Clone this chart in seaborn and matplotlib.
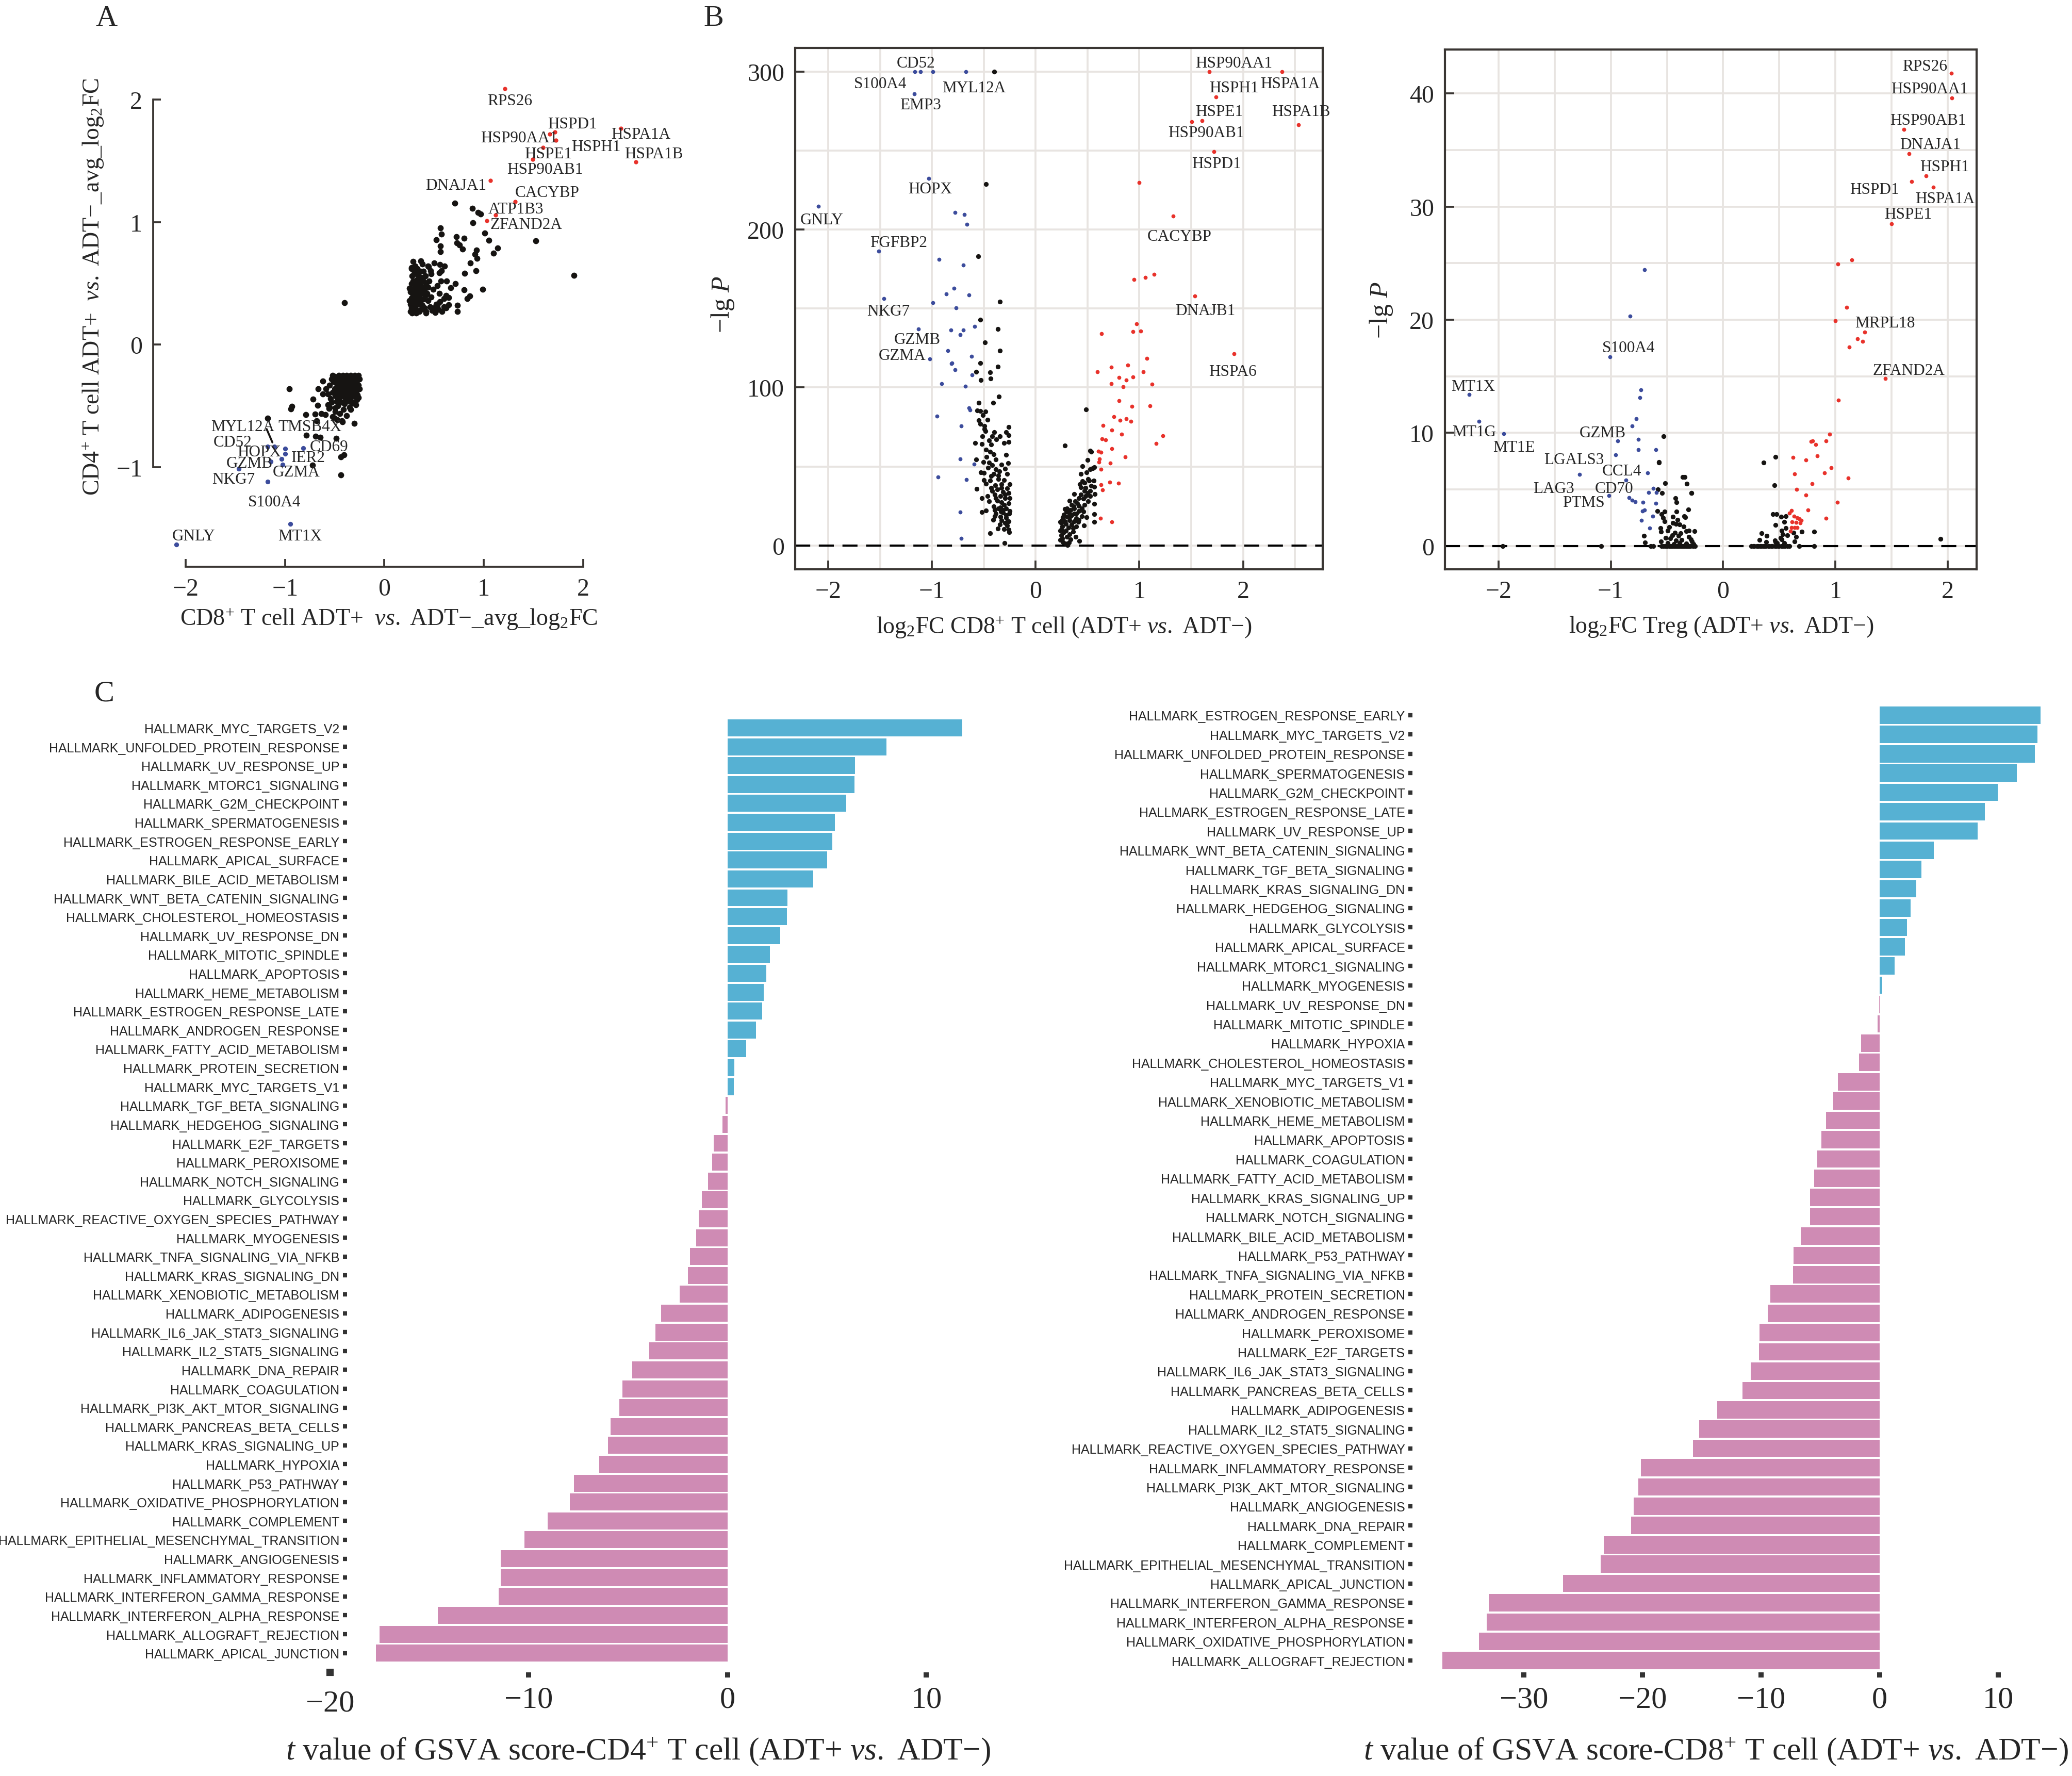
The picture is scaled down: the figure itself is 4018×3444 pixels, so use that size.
import numpy as np
import pandas as pd
import matplotlib
matplotlib.use('Agg')
import matplotlib.pyplot as plt
from matplotlib.ticker import MultipleLocator
import seaborn as sns

# ---------------- data: panel A (CD8 vs CD4 avg_log2FC) ----------------
a_black_x = [0.708, 0.883, 0.942, 0.968, 0.888, 1.009, 0.563, 0.571, 0.522, 0.722, 0.80, 0.727, 0.755, 0.786,
             0.563, 0.563, 1.05, 1.137, 1.095, 0.928, 0.91, 0.93, 0.862, 0.92, 0.809, 1.522, 1.906, 0.99, 0.804,
             0.857, 0.835, 0.732, 0.732, 0.618, 0.645, 0.597, 0.645, 0.711, 0.666, 0.625, 0.534, 0.513, 0.417,
             0.364, 0.502, 0.558, 0.605, 0.446, 0.465, 0.571, 0.55, 0.274, 0.306,
             0.26, 0.28, 0.30, 0.32, 0.27, 0.29, 0.31, 0.33, 0.35, 0.37, 0.26, 0.28, 0.30, 0.32, 0.34, 0.36, 0.38,
             0.40, 0.42, 0.27, 0.29, 0.31, 0.33, 0.35, 0.37, 0.39, 0.41, 0.26, 0.28, 0.30, 0.32, 0.34, 0.36, 0.38,
             0.40, 0.44, 0.46, 0.48, 0.27, 0.29, 0.31, 0.33, 0.35, 0.37, 0.39, 0.42, 0.44, 0.28, 0.30, 0.34, 0.36,
             0.27, 0.25, 0.25, 0.43, 0.45, 0.47, 0.50, 0.52, 0.54, 0.49, 0.41, 0.39, 0.47, 0.31, 0.33, 0.29, 0.38,
             0.44, 0.58, 0.56, 0.60, 0.62, 0.53, 0.57, 0.55,
             -0.403,
             -0.959, -0.93, -0.943, -0.721, -0.62, -0.667, -0.62, -0.671, -0.568, -0.555, -0.493, -0.493, -0.409,
             -0.329, -0.34, -0.792, -0.70, -0.633, -0.594, -0.522, -0.475, -0.422, -0.304, -0.684, -1.176, -0.784,
             -0.693, -0.647, -0.483, -0.44, -0.409, -0.726, -0.44,
             -0.26, -0.28, -0.30, -0.32, -0.34, -0.36, -0.38, -0.40, -0.42, -0.44, -0.46, -0.48, -0.50, -0.52,
             -0.27, -0.29, -0.31, -0.33, -0.35, -0.37, -0.39, -0.41, -0.43, -0.45, -0.47, -0.49, -0.26, -0.28,
             -0.30, -0.32, -0.34, -0.36, -0.38, -0.40, -0.42, -0.44, -0.46, -0.48, -0.51, -0.53, -0.27, -0.29,
             -0.31, -0.33, -0.35, -0.37, -0.39, -0.41, -0.43, -0.45, -0.47, -0.50, -0.52, -0.55, -0.27, -0.30,
             -0.34, -0.38, -0.42, -0.46, -0.49, -0.54, -0.57, -0.59, -0.28, -0.32, -0.36, -0.40, -0.44, -0.48,
             -0.25, -0.25, -0.26, -0.29, -0.35, -0.41, -0.47, -0.53, -0.56, -0.45, -0.38, -0.50, -0.43]
a_black_y = [1.156, 1.112, 1.08, 1.064, 0.995, 0.912, 0.952, 0.903, 0.855, 0.883, 0.87, 0.83, 0.814, 0.782,
             0.806, 0.761, 0.851, 0.787, 0.745, 0.77, 0.739, 0.706, 0.665, 0.605, 0.581, 0.846, 0.565, 0.45, 0.449,
             0.397, 0.376, 0.323, 0.272, 0.299, 0.326, 0.375, 0.385, 0.497, 0.463, 0.52, 0.323, 0.264, 0.259,
             0.685, 0.666, 0.654, 0.641, 0.637, 0.605, 0.602, 0.586, 0.629, 0.586,
             0.27, 0.26, 0.27, 0.26, 0.30, 0.29, 0.31, 0.28, 0.27, 0.29, 0.33, 0.35, 0.34, 0.36, 0.33, 0.35, 0.32,
             0.30, 0.27, 0.38, 0.40, 0.39, 0.41, 0.38, 0.42, 0.37, 0.40, 0.43, 0.45, 0.44, 0.47, 0.45, 0.48, 0.46,
             0.44, 0.36, 0.31, 0.28, 0.50, 0.52, 0.49, 0.53, 0.51, 0.55, 0.52, 0.49, 0.47, 0.56, 0.58, 0.57, 0.60,
             0.62, 0.36, 0.46, 0.42, 0.52, 0.39, 0.30, 0.33, 0.29, 0.45, 0.56, 0.60, 0.58, 0.64, 0.62, 0.68, 0.66,
             0.64, 0.27, 0.35, 0.31, 0.40, 0.48, 0.52, 0.42,
             0.342,
             -0.361, -0.501, -0.522, -0.442, -0.297, -0.358, -0.401, -0.495, -0.49, -0.51, -0.514, -0.543, -0.465,
             -0.474, -0.53, -0.571, -0.566, -0.562, -0.571, -0.586, -0.611, -0.627, -0.64, -0.619, -0.598, -0.739,
             -0.747, -0.755, -0.764, -0.917, -0.90, -0.981, -1.061,
             -0.25, -0.26, -0.25, -0.27, -0.25, -0.26, -0.25, -0.27, -0.25, -0.26, -0.25, -0.27, -0.26, -0.25,
             -0.29, -0.30, -0.28, -0.31, -0.29, -0.30, -0.28, -0.31, -0.29, -0.30, -0.28, -0.31, -0.33, -0.34,
             -0.32, -0.35, -0.33, -0.34, -0.32, -0.35, -0.33, -0.34, -0.32, -0.35, -0.30, -0.28, -0.37, -0.38,
             -0.36, -0.39, -0.37, -0.40, -0.36, -0.39, -0.37, -0.40, -0.38, -0.36, -0.39, -0.33, -0.41, -0.42,
             -0.43, -0.44, -0.42, -0.44, -0.42, -0.44, -0.40, -0.36, -0.45, -0.47, -0.46, -0.48, -0.47, -0.46,
             -0.28, -0.36, -0.43, -0.49, -0.51, -0.53, -0.50, -0.47, -0.52, -0.56, -0.58, -0.60, -0.62]
a_blue_x = [-2.096, -0.947, -1.173, -1.467, -1.176, -1.11, -0.999, -0.997, -1.036, -1.142, -1.023, -0.817]
a_blue_y = [-1.63, -1.46, -1.117, -1.013, -0.833, -0.829, -0.847, -0.889, -0.932, -0.952, -0.978, -0.845]
a_red_x = [1.213, 1.714, 1.664, 1.726, 1.597, 1.494, 2.38, 2.53, 1.068, 1.316, 1.118, 1.031]
a_red_y = [2.09, 1.735, 1.72, 1.666, 1.608, 1.51, 1.765, 1.49, 1.34, 1.165, 1.058, 1.01]
a_genes = ['RPS26', 'HSPD1', 'HSP90AA1', 'HSPH1', 'HSPE1', 'HSP90AB1', 'HSPA1A', 'HSPA1B', 'DNAJA1',
           'CACYBP', 'ATP1B3', 'ZFAND2A', 'GNLY', 'MT1X', 'S100A4', 'NKG7', 'GZMB', 'MYL12A', 'TMSB4X',
           'CD52', 'HOPX', 'IER2', 'CD69', 'GZMA']

# ---------------- data: panel B (CD8+ T cell volcano) ----------------
b_black_x = [-0.40, -0.479, -0.554, -0.346, -0.532, -0.363, -0.488, -0.346, -0.532, -0.363, -0.576, -0.439,
             -0.435, -0.528, -0.355,
             -0.41, -0.55, -0.565, -0.534, -0.483, -0.51, -0.55, -0.466, -0.534, -0.494, -0.262, -0.494, -0.483,
             -0.401, -0.284, -0.512, -0.417, -0.344, -0.262, -0.45, -0.379, -0.583, -0.517, -0.428, -0.306,
             -0.262, -0.477, -0.439, -0.406, -0.284, -0.472, -0.384, -0.572, -0.506, -0.45, -0.266, -0.417,
             -0.461, -0.528, -0.499, -0.406, -0.361, -0.273, -0.499, -0.439, -0.361, -0.306, -0.477, -0.388,
             -0.328, -0.277, -0.568, -0.37, -0.317, -0.262, -0.395, -0.339, -0.466, -0.517, -0.295, -0.37, -0.45,
             -0.328, -0.262, -0.406, -0.339, -0.284, -0.361, -0.477, -0.521, -0.395, -0.317, -0.255, -0.339,
             -0.395, -0.284, -0.41, -0.328, -0.262, -0.295, -0.366, -0.306, -0.262, -0.257, -0.439, -0.302,
             -0.273, -0.344, -0.251, -0.251, -0.251, -0.295, -0.328, -0.35, -0.384, -0.428, -0.328, -0.417,
             -0.317, -0.384, -0.284, -0.335, -0.273, -0.306, -0.384, -0.295, -0.428,
             0.488, 0.282, 0.525, 0.537, 0.499, 0.452, 0.565, 0.548, 0.525, 0.49, 0.435, 0.503, 0.452, 0.559,
             0.428, 0.47, 0.537, 0.437, 0.565, 0.47, 0.37, 0.499, 0.57, 0.525, 0.415, 0.459, 0.326, 0.381, 0.503,
             0.565, 0.348, 0.415, 0.47, 0.304, 0.37, 0.282, 0.415, 0.459, 0.321, 0.392, 0.565, 0.27, 0.348, 0.448,
             0.492, 0.304, 0.392, 0.255, 0.326, 0.37, 0.41, 0.565, 0.248, 0.293, 0.348, 0.392, 0.466, 0.259,
             0.315, 0.248, 0.293, 0.359, 0.27, 0.326, 0.248, 0.304, 0.386, 0.259, 0.337, 0.419, 0.264, 0.308,
             0.286, 0.322, 0.237, 0.237, 0.237, 0.264, 0.295, 0.337, 0.366, 0.403, 0.437, 0.481, 0.514, 0.415,
             0.359, 0.282, 0.337, 0.37, 0.448, 0.481, 0.525]
b_black_y = [300, 228.9, 183, 154.4, 143, 137.2, 128.6, 123.2, 115.6, 113.3, 110, 109.6, 105.7, 104.7, 94.3,
             90.4, 90.5, 85.4, 85.3, 84.7, 82.6, 79.3, 79.6, 77.1, 75.8, 75.1, 73.6, 72.5, 71.7, 71.7, 69.3, 69.3,
             69.3, 69.8, 66.6, 67.1, 64.9, 64.4, 63.8, 64.9, 65.5, 60.6, 59.5, 57.8, 57.3, 56.2, 54.6, 54.5, 52.9,
             52.4, 52.2, 50.8, 49.1, 46.2, 45.8, 45.3, 44.2, 45.3, 41.5, 41, 42, 41.5, 39, 38.2, 38.8, 36.1, 35.9,
             35.5, 33.9, 33.3, 32.2, 31.2, 31.2, 30.1, 30.1, 28.4, 28.1, 27.3, 26.8, 24.6, 24.1, 23.5, 23.3, 22.2,
             21.1, 22.4, 20.8, 20.3, 18.1, 18.6, 17.5, 16.4, 15.9, 15.4, 14.3, 10.7, 10.5, 9.9, 8.3, 7.7, 1.5,
             12.6, 13.2, 21.9, 30.1, 38.8, 48.6, 51.3, 46.9, 48.4, 44.0, 36.6, 34.4, 22.4, 20.3, 19.2, 21.4, 14.8,
             25.7, 30.1, 32.2, 36.6,
             86.2, 63.1, 60.0, 59.5, 54.2, 50.2, 49.7, 48.8, 48.4, 46.2, 45.3, 42, 40.6, 41.2, 38.8, 39.7, 37.7,
             36.8, 37.1, 34.4, 32.5, 33.3, 32.5, 31.2, 30.1, 29.5, 28.4, 27.9, 27.9, 26.5, 25.7, 25.2, 25.7, 23.5,
             23.3, 23.0, 21.9, 21.4, 20.8, 20.3, 19.9, 19.4, 19.2, 18.6, 17.9, 18.1, 17.2, 16.1, 15.9, 15.4, 15.0,
             15.0, 14.3, 13.7, 13.2, 12.1, 12.6, 12.1, 11.3, 10.2, 9.4, 8.8, 8.3, 7.2, 6.6, 5.6, 5.6, 4.5, 3.9, 2.8,
             2.3, 0.1, 1.2, 2.0, 3.4, 9.4, 14.8, 17.9, 21.4, 22.4, 24.6, 26.8, 32.2, 36.6, 41.0, 16.4, 11.0, 15.4,
             18.6, 20.3, 23.5, 31.2, 34.4]
b_blue_x = [-1.166, -1.109, -0.989, -0.674, -1.171, -1.029, -2.093, -1.512, -1.463, -1.131, -1.02, -0.776,
            -0.687, -0.665, -0.931, -0.696, -0.789, -0.86, -0.643, -0.989, -0.767, -0.59, -0.816, -0.70, -0.727,
            -0.847, -0.616, -0.807, -0.776, -0.612, -0.909, -0.678, -0.643, -0.634, -0.953, -0.718, -0.727,
            -0.594, -0.94, -0.67, -0.727, -0.718, -0.812]
b_blue_y = [300, 300, 300, 300, 286, 232.3, 214.8, 186.5, 156.3, 137.2, 118, 211, 209.6, 203.4, 181.2, 177.6,
            162.8, 159.4, 158.6, 153.6, 150.5, 138.8, 136.5, 136.5, 133.6, 123.2, 119.8, 115.4, 111.2, 108.1,
            102.3, 100.8, 87.2, 85.9, 81.8, 75.8, 54.7, 51.6, 43.5, 41.7, 21.1, 4.4, 115.2]
b_red_x = [1.676, 2.377, 1.738, 1.605, 1.503, 2.532, 1.721, 0.998, 1.326, 1.534, 1.911, 0.949, 1.055, 1.144,
           0.971, 0.94, 1.011, 0.634, 1.073, 0.887, 0.727, 0.594, 1.038, 0.803, 0.94, 0.874, 0.727, 0.843, 1.122,
           0.803, 0.927, 1.1, 0.754, 0.874, 0.918, 0.812, 0.652, 0.736, 0.829, 1.228, 1.162, 0.639, 0.674, 0.603,
           0.63, 0.736, 0.616, 0.612, 0.865, 0.718, 0.63, 0.63, 0.714, 0.798, 0.643, 0.626, 0.736]
b_red_y = [300, 300, 284.1, 269, 268.2, 266.4, 249.5, 229.7, 208.6, 157.8, 121.4, 168.5, 169.8, 171.6, 140.4,
           135.4, 135.7, 134.1, 118.5, 114.1, 113, 109.9, 109.9, 106.2, 106.8, 104.7, 102.3, 100.5, 102.1, 91.7,
           88, 88.5, 81.5, 80.2, 78.6, 79.2, 76, 73.2, 70.6, 69.5, 64.6, 67.4, 66.9, 59.6, 58.9, 61.2, 54.9, 52.9,
           56, 52.3, 48.4, 38.5, 40.1, 39.3, 35.2, 17.2, 14.8]

# ---------------- data: panel C (Treg volcano) ----------------
c_black_x = [-0.532, -0.569, -0.517, -0.579, -0.546, -0.362, -0.325, -0.28, -0.425, -0.413, -0.311, -0.583,
             -0.521, -0.413, -0.548, -0.348, -0.339, -0.446, -0.536, -0.405, -0.52, -0.446, -0.419, -0.389,
             -0.352, -0.481, -0.556, -0.307, -0.256, -0.327, -0.491, -0.552, -0.429, -0.378, -0.706, -0.45,
             -0.399, -0.303, -0.511, -0.47, -0.286, -0.368, -0.419, -0.552, -0.276, -0.695, -0.491, -0.389,
             -0.327, -0.266, -0.44, -0.344, -0.282, -0.573,
             -1.963, -1.084, -0.644, -0.62, -0.55, -0.53, -0.51, -0.50, -0.48, -0.47, -0.46, -0.45, -0.44, -0.43,
             -0.42, -0.41, -0.40, -0.39, -0.38, -0.37, -0.36, -0.35, -0.34, -0.33, -0.32, -0.31, -0.30, -0.29,
             -0.27, -0.25,
             0.468, 0.36, 0.456, 0.444, 0.474, 0.517, 0.556, 0.542, 0.466, 0.558, 0.521, 0.701, 0.808, 0.626,
             0.342, 0.387, 0.532, 0.573, 0.648, 0.511, 0.323, 0.46, 0.521, 0.384, 0.466, 0.634, 0.481, 0.542,
             0.25, 0.27, 0.28, 0.30, 0.31, 0.33, 0.34, 0.36, 0.37, 0.38, 0.40, 0.41, 0.43, 0.44, 0.46, 0.47, 0.49,
             0.50, 0.52, 0.53, 0.55, 0.57, 0.59, 0.675, 0.808, 1.937]
c_black_y = [9.7, 7.36, 5.53, 4.98, 4.70, 6.08, 5.51, 4.66, 4.21, 3.85, 3.21, 3.1, 3.02, 3.02, 2.82, 2.64, 2.53,
             2.6, 2.49, 2.29, 2.15, 2.03, 1.95, 1.88, 1.73, 1.68, 1.57, 1.37, 1.3, 1.3, 1.34, 1.27, 1.19, 1.11,
             0.89, 0.96, 0.89, 0.81, 0.73, 0.66, 0.58, 0.55, 0.5, 0.4, 0.4, 0.3, 0.27, 0.24, 0.2, 0.15, 0.15,
             6.1, 4.7, 7.4,
             0, 0, 0, 0, 0, 0, 0, 0, 0, 0, 0, 0, 0, 0, 0, 0, 0, 0, 0, 0, 0, 0, 0, 0, 0, 0, 0, 0, 0, 0,
             7.86, 7.37, 5.36, 2.79, 2.79, 2.6, 2.63, 2.14, 1.83, 1.57, 1.34, 1.27, 1.27, 1.19, 1.11, 0.89, 1.04,
             0.92, 0.81, 0.73, 0.55, 0.5, 0.58, 0.35, 0.35, 0.4, 0.27, 0.24,
             0, 0, 0, 0, 0, 0, 0, 0, 0, 0, 0, 0, 0, 0, 0, 0, 0, 0, 0, 0, 0, 0, 0, 0, 0, 0.61]
c_blue_x = [-0.699, -0.826, -1.006, -2.262, -2.172, -1.951, -0.734, -0.742, -0.771, -0.81, -0.94, -0.757,
            -0.757, -0.597, -0.957, -0.673, -1.276, -0.863, -0.62, -0.663, -0.595, -1.016, -0.838, -0.812,
            -0.781, -0.714, -0.597, -0.716, -0.701, -0.628, -0.726, -0.656]
c_blue_y = [24.4, 20.3, 16.7, 13.4, 11.0, 9.9, 13.8, 13.1, 11.25, 10.6, 9.3, 9.4, 8.5, 8.5, 8.06, 6.44, 6.3,
            5.8, 5.07, 4.73, 4.73, 4.44, 4.27, 4.06, 3.89, 3.88, 3.77, 3.1, 3.19, 2.63, 2.27, 1.56]
c_red_x = [2.033, 2.037, 1.611, 1.656, 1.808, 1.677, 1.869, 1.497, 1.145, 1.022, 1.10, 0.998, 1.26, 1.194,
           1.243, 1.121, 1.444, 1.027, 0.947, 0.783, 0.798, 0.914, 0.822, 0.838, 0.622, 0.736, 0.963, 0.638,
           0.9, 1.112, 0.791, 0.654, 0.736, 1.018, 0.757, 0.609, 0.589, 0.632, 0.658, 0.679, 0.695, 0.916,
           0.613, 0.648, 0.687, 0.609, 0.638, 0.658, 0.599]
c_red_y = [41.8, 39.6, 36.8, 34.7, 32.7, 32.2, 31.7, 28.5, 25.3, 24.9, 21.1, 19.9, 18.9, 18.3, 18.1, 17.6, 14.8,
           12.9, 9.86, 9.25, 9.3, 9.28, 8.95, 7.98, 7.82, 7.6, 6.89, 6.35, 6.44, 5.98, 5.48, 5.02, 4.5, 3.88,
           3.19, 3.15, 2.9, 2.61, 2.49, 2.41, 2.26, 2.43, 2.11, 2.06, 2.03, 1.62, 1.62, 1.62, 1.31]

# ---------------- data: panel C bars (GSVA t values) ----------------
cd4_terms = ['MYC_TARGETS_V2', 'UNFOLDED_PROTEIN_RESPONSE', 'UV_RESPONSE_UP', 'MTORC1_SIGNALING',
             'G2M_CHECKPOINT', 'SPERMATOGENESIS', 'ESTROGEN_RESPONSE_EARLY', 'APICAL_SURFACE',
             'BILE_ACID_METABOLISM', 'WNT_BETA_CATENIN_SIGNALING', 'CHOLESTEROL_HOMEOSTASIS', 'UV_RESPONSE_DN',
             'MITOTIC_SPINDLE', 'APOPTOSIS', 'HEME_METABOLISM', 'ESTROGEN_RESPONSE_LATE', 'ANDROGEN_RESPONSE',
             'FATTY_ACID_METABOLISM', 'PROTEIN_SECRETION', 'MYC_TARGETS_V1', 'TGF_BETA_SIGNALING',
             'HEDGEHOG_SIGNALING', 'E2F_TARGETS', 'PEROXISOME', 'NOTCH_SIGNALING', 'GLYCOLYSIS',
             'REACTIVE_OXYGEN_SPECIES_PATHWAY', 'MYOGENESIS', 'TNFA_SIGNALING_VIA_NFKB', 'KRAS_SIGNALING_DN',
             'XENOBIOTIC_METABOLISM', 'ADIPOGENESIS', 'IL6_JAK_STAT3_SIGNALING', 'IL2_STAT5_SIGNALING',
             'DNA_REPAIR', 'COAGULATION', 'PI3K_AKT_MTOR_SIGNALING', 'PANCREAS_BETA_CELLS', 'KRAS_SIGNALING_UP',
             'HYPOXIA', 'P53_PATHWAY', 'OXIDATIVE_PHOSPHORYLATION', 'COMPLEMENT',
             'EPITHELIAL_MESENCHYMAL_TRANSITION', 'ANGIOGENESIS', 'INFLAMMATORY_RESPONSE',
             'INTERFERON_GAMMA_RESPONSE', 'INTERFERON_ALPHA_RESPONSE', 'ALLOGRAFT_REJECTION', 'APICAL_JUNCTION']
cd4_t = [11.8, 7.98, 6.42, 6.39, 5.96, 5.40, 5.26, 5.0, 4.30, 3.01, 2.98, 2.65, 2.12, 1.95, 1.82, 1.75, 1.42,
         0.93, 0.33, 0.30, -0.1, -0.26, -0.70, -0.79, -0.99, -1.29, -1.46, -1.59, -1.89, -1.99, -2.42, -3.34,
         -3.64, -3.94, -4.80, -5.30, -5.46, -5.89, -6.03, -6.46, -7.72, -7.95, -9.04, -10.23, -11.42, -11.42,
         -11.52, -14.57, -17.52, -17.68]

cd8_terms = ['ESTROGEN_RESPONSE_EARLY', 'MYC_TARGETS_V2', 'UNFOLDED_PROTEIN_RESPONSE', 'SPERMATOGENESIS',
             'G2M_CHECKPOINT', 'ESTROGEN_RESPONSE_LATE', 'UV_RESPONSE_UP', 'WNT_BETA_CATENIN_SIGNALING',
             'TGF_BETA_SIGNALING', 'KRAS_SIGNALING_DN', 'HEDGEHOG_SIGNALING', 'GLYCOLYSIS', 'APICAL_SURFACE',
             'MTORC1_SIGNALING', 'MYOGENESIS', 'UV_RESPONSE_DN', 'MITOTIC_SPINDLE', 'HYPOXIA',
             'CHOLESTEROL_HOMEOSTASIS', 'MYC_TARGETS_V1', 'XENOBIOTIC_METABOLISM', 'HEME_METABOLISM',
             'APOPTOSIS', 'COAGULATION', 'FATTY_ACID_METABOLISM', 'KRAS_SIGNALING_UP', 'NOTCH_SIGNALING',
             'BILE_ACID_METABOLISM', 'P53_PATHWAY', 'TNFA_SIGNALING_VIA_NFKB', 'PROTEIN_SECRETION',
             'ANDROGEN_RESPONSE', 'PEROXISOME', 'E2F_TARGETS', 'IL6_JAK_STAT3_SIGNALING', 'PANCREAS_BETA_CELLS',
             'ADIPOGENESIS', 'IL2_STAT5_SIGNALING', 'REACTIVE_OXYGEN_SPECIES_PATHWAY', 'INFLAMMATORY_RESPONSE',
             'PI3K_AKT_MTOR_SIGNALING', 'ANGIOGENESIS', 'DNA_REPAIR', 'COMPLEMENT',
             'EPITHELIAL_MESENCHYMAL_TRANSITION', 'APICAL_JUNCTION', 'INTERFERON_GAMMA_RESPONSE',
             'INTERFERON_ALPHA_RESPONSE', 'OXIDATIVE_PHOSPHORYLATION', 'ALLOGRAFT_REJECTION']
cd8_t = [13.58, 13.30, 13.07, 11.56, 9.94, 8.88, 8.27, 4.58, 3.52, 3.07, 2.63, 2.29, 2.12, 1.28, 0.22, -0.05,
         -0.17, -1.56, -1.73, -3.52, -3.91, -4.53, -4.92, -5.25, -5.53, -5.87, -5.87, -6.65, -7.26, -7.32,
         -9.22, -9.44, -10.11, -10.17, -10.89, -11.56, -13.69, -15.20, -15.75, -20.11, -20.34, -20.73, -20.95,
         -23.24, -23.52, -26.70, -32.96, -33.13, -33.80, -36.87]

# ---------------- style ----------------
BLACK = '#161412'
RED = '#E8322B'
BLUE = '#3C4C9C'
UP_BAR = '#56B1D3'
DOWN_BAR = '#CF8BB4'
GRID = '#E8E4E1'
SPINE = '#3A3633'
SERIF = 'Liberation Serif'

sns.set_theme(style='ticks')
plt.rcParams['font.family'] = [SERIF, 'DejaVu Serif']
plt.rcParams['mathtext.fontset'] = 'custom'
plt.rcParams['mathtext.rm'] = SERIF
plt.rcParams['mathtext.it'] = SERIF + ':italic'
plt.rcParams['mathtext.bf'] = SERIF + ':bold'
plt.rcParams['axes.unicode_minus'] = True

W, H = 4018, 3445
fig = plt.figure(figsize=(W / 300, H / 300), dpi=300)


def px_axes(left, top, right, bottom):
    return fig.add_axes([left / W, 1 - bottom / H, (right - left) / W, (bottom - top) / H])


def scatter_group(ax, x, y, color, size):
    sns.scatterplot(x=x, y=y, color=color, s=size, linewidth=0, ax=ax, zorder=3)


LBL = 7.5   # gene label size
TCK = 11.5  # tick label size
AXL = 11.0  # axis title size

# ---------------- Panel A ----------------
axA = px_axes(297, 135, 1247, 1100)
scatter_group(axA, a_black_x, a_black_y, BLACK, 8)
scatter_group(axA, a_blue_x, a_blue_y, BLUE, 5)
scatter_group(axA, a_red_x, a_red_y, RED, 4)
axA.set_xlim(-2.327, 2.602)
axA.set_ylim(-1.811, 2.248)
axA.set_xticks([-2, -1, 0, 1, 2])
axA.set_yticks([-1, 0, 1, 2])
for s in ['top', 'right']:
    axA.spines[s].set_visible(False)
axA.spines['left'].set_bounds(-1, 2)
axA.spines['bottom'].set_bounds(-2, 2)
for s in ['left', 'bottom']:
    axA.spines[s].set_color(SPINE)
    axA.spines[s].set_linewidth(0.9)
axA.tick_params(direction='in', length=3.5, width=0.9, color=SPINE, labelsize=TCK, pad=5)
axA.set_xlabel('CD8$^{+}$ T cell ADT+  $\\it{vs.}$ ADT\u2212_avg_log$_{2}$FC', fontsize=AXL)
axA.set_ylabel('CD4$^{+}$ T cell ADT+  $\\it{vs.}$ ADT\u2212_avg_log$_{2}$FC', fontsize=AXL)
axA.xaxis.set_label_coords(0.481, -0.104)
axA.xaxis.label.set_va('center')
axA.yaxis.set_label_coords(-0.123, 0.564)
axA.yaxis.label.set_va('center')

a_label_pos = {'RPS26': (1.263, 1.99), 'HSPD1': (1.89, 1.80), 'HSP90AA1': (1.354, 1.686),
               'HSPH1': (2.13, 1.616), 'HSPE1': (1.648, 1.555), 'HSP90AB1': (1.614, 1.428),
               'HSPA1A': (2.58, 1.718), 'HSPA1B': (2.71, 1.554), 'DNAJA1': (0.718, 1.30),
               'CACYBP': (1.636, 1.24), 'ATP1B3': (1.325, 1.105), 'ZFAND2A': (1.428, 0.978),
               'GNLY': (-1.92, -1.56), 'MT1X': (-0.85, -1.56), 'S100A4': (-1.108, -1.284),
               'NKG7': (-1.517, -1.096), 'GZMB': (-1.356, -0.966), 'MYL12A': (-1.427, -0.667),
               'TMSB4X': (-0.75, -0.667), 'CD52': (-1.526, -0.794), 'HOPX': (-1.26, -0.874),
               'IER2': (-0.764, -0.921), 'CD69': (-0.557, -0.834), 'GZMA': (-0.889, -1.04)}
for g in a_genes:
    axA.text(*a_label_pos[g], g, fontsize=LBL, ha='center', va='center', zorder=4)
# leader line MYL12A label -> its point (the 6th blue point)
axA.annotate('', xy=(a_blue_x[5], a_blue_y[5]), xytext=(-1.185, -0.688),
             arrowprops=dict(arrowstyle='-', color=BLACK, lw=0.9, shrinkA=0, shrinkB=2))


# ---------------- Panels B and C (volcano) ----------------
def volcano(ax, xl, yl, xmaj, xmin, ymaj, ymin):
    ax.set_xlim(*xl)
    ax.set_ylim(*yl)
    ax.xaxis.set_major_locator(MultipleLocator(xmaj))
    ax.xaxis.set_minor_locator(MultipleLocator(xmin))
    ax.yaxis.set_major_locator(MultipleLocator(ymaj))
    ax.yaxis.set_minor_locator(MultipleLocator(ymin))
    ax.grid(which='both', color=GRID, lw=0.9)
    ax.set_axisbelow(True)
    for s in ax.spines.values():
        s.set_color(SPINE)
        s.set_linewidth(1.0)
    ax.tick_params(which='major', direction='in', length=4.2, width=0.9, color=SPINE,
                   labelsize=TCK, pad=5)
    ax.tick_params(which='minor', length=0)
    ax.axhline(0, color='black', lw=1.0, ls=(0, (7, 4)), zorder=2)


axB = px_axes(1542, 94, 2565, 1105)
volcano(axB, (-2.319, 2.768), (-15.1, 315.0), 1, 0.5, 100, 50)
scatter_group(axB, b_black_x, b_black_y, BLACK, 5)
scatter_group(axB, b_blue_x, b_blue_y, BLUE, 3.5)
scatter_group(axB, b_red_x, b_red_y, RED, 3.5)
axB.set_xlabel('log$_{2}$FC CD8$^{+}$ T cell (ADT+ $\\it{vs.}$ ADT\u2212)', fontsize=AXL)
axB.set_ylabel('\u2212lg $\\it{P}$', fontsize=AXL + 1)
axB.xaxis.set_label_coords(0.51, -0.110)
axB.xaxis.label.set_va('center')
axB.yaxis.set_label_coords(-0.137, 0.509)
axB.yaxis.label.set_va('center')
b_labels = {'CD52': (-1.153, 305.5), 'S100A4': (-1.499, 292.4), 'MYL12A': (-0.594, 289.8),
            'EMP3': (-1.109, 278.9), 'HOPX': (-1.02, 225.8), 'GNLY': (-2.062, 206),
            'FGFBP2': (-1.322, 191.9), 'NKG7': (-1.419, 148.4), 'GZMB': (-1.144, 130.2),
            'GZMA': (-1.286, 120.3), 'HSP90AA1': (1.911, 305.5), 'HSPA1A': (2.452, 292.2),
            'HSPH1': (1.911, 289.6), 'HSPE1': (1.769, 274.7), 'HSPA1B': (2.559, 274.7),
            'HSP90AB1': (1.641, 261.2), 'HSPD1': (1.743, 241.7), 'CACYBP': (1.388, 195.6),
            'DNAJB1': (1.636, 148.7), 'HSPA6': (1.902, 110.2)}
for g, (x, y) in b_labels.items():
    axB.text(x, y, g, fontsize=LBL, ha='center', va='center', zorder=4)

axC = px_axes(2802, 97, 3833, 1105)
volcano(axC, (-2.476, 2.256), (-2.07, 43.89), 1, 0.5, 10, 5)
scatter_group(axC, c_black_x, c_black_y, BLACK, 5)
scatter_group(axC, c_blue_x, c_blue_y, BLUE, 3.5)
scatter_group(axC, c_red_x, c_red_y, RED, 3.5)
axC.set_xlabel('log$_{2}$FC Treg (ADT+ $\\it{vs.}$ ADT\u2212)', fontsize=AXL)
axC.set_ylabel('\u2212lg $\\it{P}$', fontsize=AXL + 1)
axC.xaxis.set_label_coords(0.52, -0.110)
axC.xaxis.label.set_va('center')
axC.yaxis.set_label_coords(-0.120, 0.499)
axC.yaxis.label.set_va('center')
c_labels = {'RPS26': (1.796, 42.4), 'HSP90AA1': (1.836, 40.4), 'HSP90AB1': (1.824, 37.6),
            'DNAJA1': (1.845, 35.5), 'HSPH1': (1.971, 33.5), 'HSPD1': (1.346, 31.5),
            'HSPA1A': (1.975, 30.7), 'HSPE1': (1.648, 29.3), 'MRPL18': (1.44, 19.7),
            'ZFAND2A': (1.652, 15.5), 'S100A4': (-0.843, 17.5), 'MT1X': (-2.225, 14.1),
            'MT1G': (-2.217, 10.1), 'MT1E': (-1.861, 8.7), 'GZMB': (-1.072, 10.0),
            'LGALS3': (-1.325, 7.6), 'CCL4': (-0.904, 6.6), 'LAG3': (-1.509, 5.05),
            'CD70': (-0.969, 5.05), 'PTMS': (-1.243, 3.85)}
for g, (x, y) in c_labels.items():
    axC.text(x, y, g, fontsize=LBL, ha='center', va='center', zorder=4)


# ---------------- bar charts ----------------
BAR_TCK = 14.5


def gsva_bars(ax, terms, tvals, xl, yl):
    df = pd.DataFrame({'term': ['HALLMARK_' + t for t in terms], 't': tvals})
    df['dir'] = np.where(df['t'] > 0, 'up', 'down')
    sns.barplot(data=df, x='t', y='term', hue='dir', order=list(df['term']),
                palette={'up': UP_BAR, 'down': DOWN_BAR}, orient='h', width=0.9,
                dodge=False, legend=False, saturation=1, linewidth=0, ax=ax)
    ax.set_xlim(*xl)
    ax.set_ylim(*yl)
    for s in ax.spines.values():
        s.set_visible(False)
    ax.tick_params(axis='y', direction='out', length=2.0, width=2.0, color='#333333', pad=1.5)
    ax.tick_params(axis='x', direction='out', length=2.4, width=2.4, color='#333333', pad=4,
                   labelsize=BAR_TCK)
    for lab in ax.get_yticklabels():
        lab.set_fontfamily('Liberation Sans')
        lab.set_fontsize(6)
    ax.set_ylabel('')


axL = px_axes(672.6, 1390.5, 1922.7, 3244)
gsva_bars(axL, cd4_terms, cd4_t, (-19.154, 13.274), (50.02, -0.6))
axL.set_xticks([-10, 0, 10])
# the -20 break sits just outside the panel in the original figure
axL.plot([-20], [0], marker='s', ms=2.4, color='#333333', transform=axL.get_xaxis_transform(),
         clip_on=False, linestyle='none')
axL.text(-20, -0.018, '\u221220', transform=axL.get_xaxis_transform(), ha='center', va='top',
         fontsize=BAR_TCK, clip_on=False)
axL.set_xlabel('$\\it{t}$ value of GSVA score-CD4$^{+}$ T cell (ADT+ $\\it{vs.}$ ADT\u2212)', fontsize=14.8)
axL.xaxis.set_label_coords(0.4515, -0.0825)
axL.xaxis.label.set_va('center')

axR = px_axes(2739.0, 1365.4, 4015.3, 3244)
gsva_bars(axR, cd8_terms, cd8_t, (-39.39, 16.10), (49.61, -0.6))
axR.set_xticks([-30, -20, -10, 0, 10])
axR.set_xlabel('$\\it{t}$ value of GSVA score-CD8$^{+}$ T cell (ADT+ $\\it{vs.}$ ADT\u2212)', fontsize=14.8)
axR.xaxis.set_label_coords(0.461, -0.0814)
axR.xaxis.label.set_va('center')

# panel letters
for letter, (px, py) in {'A': (206, 36), 'B': (1384, 36), 'C': (202, 1346)}.items():
    fig.text(px / W, 1 - py / H, letter, fontsize=14, ha='center', va='center')

fig.savefig('out.png', dpi=300)
